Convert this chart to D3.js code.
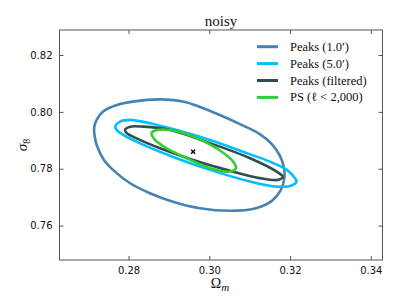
<!DOCTYPE html>
<html><head><meta charset="utf-8">
<script src="https://cdn.jsdelivr.net/npm/d3@7"></script>
<style>body{margin:0;background:#fff}svg{display:block}</style>
</head><body>
<script>
const xTicks = [0.28, 0.30, 0.32, 0.34];
const yTicks = [0.76, 0.78, 0.80, 0.82];
const xDomain = [0.2629, 0.3429];
const yDomain = [0.7479, 0.8288];
const title = "noisy";
const seriesNames = ["Peaks (1.0\u2032)", "Peaks (5.0\u2032)", "Peaks (filtered)", "PS (\u2113 < 2,000)"];
const seriesColors = ["#4682b4", "#00bfff", "#2f4f4f", "#32cd32"];
const peaks10 = [[0.2715,0.7947],[0.2721,0.7972],[0.2737,0.8001],[0.2771,0.8024],[0.2811,0.8036],[0.2878,0.8044],[0.2940,0.8035],[0.2977,0.8017],[0.3026,0.7989],[0.3076,0.7957],[0.3125,0.7922],[0.3155,0.7887],[0.3175,0.7845],[0.3185,0.7803],[0.3186,0.7768],[0.3177,0.7725],[0.3155,0.7687],[0.3113,0.7660],[0.3051,0.7652],[0.2977,0.7661],[0.2910,0.7684],[0.2853,0.7714],[0.2804,0.7749],[0.2767,0.7789],[0.2739,0.7831],[0.2722,0.7880],[0.2716,0.7915]];
const peaks50 = [[0.2767,0.7948],[0.2779,0.7966],[0.2804,0.7972],[0.2853,0.7960],[0.2919,0.7936],[0.3002,0.7901],[0.3083,0.7860],[0.3150,0.7825],[0.3192,0.7796],[0.3212,0.7767],[0.3216,0.7755],[0.3204,0.7741],[0.3167,0.7737],[0.3101,0.7755],[0.3002,0.7796],[0.2919,0.7837],[0.2837,0.7884],[0.2787,0.7919],[0.2771,0.7936]];
const peaksFiltered = [[0.2791,0.7936],[0.2804,0.7948],[0.2837,0.7948],[0.2903,0.7936],[0.3002,0.7890],[0.3101,0.7837],[0.3167,0.7790],[0.3182,0.7772],[0.3171,0.7761],[0.3125,0.7767],[0.3043,0.7796],[0.2960,0.7831],[0.2878,0.7872],[0.2820,0.7907],[0.2796,0.7925]];
const psContour = [[0.2857,0.7925],[0.2870,0.7936],[0.2903,0.7936],[0.2960,0.7913],[0.3018,0.7872],[0.3059,0.7825],[0.3066,0.7802],[0.3051,0.7790],[0.3002,0.7802],[0.2944,0.7837],[0.2895,0.7872],[0.2866,0.7901]];
const fiducial = [0.2960, 0.7860];

const W = 399, H = 299;
const m = {left: 59.5, right: 382.5, top: 30, bottom: 260};
const svg = d3.select("body").append("svg").attr("width", W).attr("height", H);
const x = d3.scaleLinear().domain(xDomain).range([m.left, m.right]);
const y = d3.scaleLinear().domain(yDomain).range([m.bottom, m.top]);

const contours = [peaks10, peaks50, peaksFiltered, psContour];
const line = d3.line().x(d => x(d[0])).y(d => y(d[1])).curve(d3.curveCatmullRomClosed.alpha(0.5));
const g = svg.append("g");
contours.forEach((c, i) => {
  g.append("path").attr("d", line(c)).attr("fill", "none")
   .attr("stroke", seriesColors[i]).attr("stroke-width", 2.6);
});
const fx = x(fiducial[0]), fy = y(fiducial[1]);
g.append("path").attr("d", `M${fx-2},${fy-2}L${fx+2},${fy+2}M${fx-2},${fy+2}L${fx+2},${fy-2}`)
 .attr("stroke", "#000").attr("stroke-width", 1.4);

svg.append("rect").attr("x", m.left).attr("y", m.top).attr("width", m.right - m.left)
  .attr("height", m.bottom - m.top).attr("fill", "none").attr("stroke", "#555").attr("stroke-width", 1);

const tickLen = 4;
const axB = svg.append("g").attr("transform", `translate(0,${m.bottom})`)
  .call(d3.axisBottom(x).tickValues(xTicks).tickSizeInner(-tickLen).tickSizeOuter(0).tickPadding(7).tickFormat(d3.format(".2f")));
const axT = svg.append("g").attr("transform", `translate(0,${m.top})`)
  .call(d3.axisTop(x).tickValues(xTicks).tickSizeInner(-tickLen).tickSizeOuter(0).tickFormat(""));
const axL = svg.append("g").attr("transform", `translate(${m.left},0)`)
  .call(d3.axisLeft(y).tickValues(yTicks).tickSizeInner(-tickLen).tickSizeOuter(0).tickPadding(7).tickFormat(d3.format(".2f")));
const axR = svg.append("g").attr("transform", `translate(${m.right},0)`)
  .call(d3.axisRight(y).tickValues(yTicks).tickSizeInner(-tickLen).tickSizeOuter(0).tickFormat(""));
[axB, axT, axL, axR].forEach(a => {
  a.select(".domain").remove();
  a.selectAll(".tick line").attr("stroke", "#555");
  a.selectAll("text").attr("font-family", "DejaVu Sans").attr("font-size", 10).attr("fill", "#111");
});

svg.append("text").attr("x", (m.left + m.right) / 2).attr("y", 26).attr("text-anchor", "middle")
  .attr("font-family", "Liberation Serif").attr("font-size", 15).attr("fill", "#111").text(title);

const xl = svg.append("text").attr("x", 220).attr("y", 288).attr("text-anchor", "middle")
  .attr("font-family", "Liberation Serif").attr("font-size", 14).attr("fill", "#111");
xl.append("tspan").text("\u03A9");
xl.append("tspan").attr("font-style", "italic").attr("font-size", 11).attr("dy", 3).text("m");
const yl = svg.append("text").attr("transform", "translate(27,145) rotate(-90)").attr("text-anchor", "middle")
  .attr("font-family", "Liberation Serif").attr("font-size", 15).attr("fill", "#111");
yl.append("tspan").attr("font-style", "italic").text("\u03C3");
yl.append("tspan").attr("font-size", 10).attr("dy", 3).text("8");

const leg = svg.append("g");
seriesNames.forEach((n, i) => {
  const ly = 46.7 + i * 16.9;
  leg.append("line").attr("x1", 257).attr("x2", 278).attr("y1", ly).attr("y2", ly)
    .attr("stroke", seriesColors[i]).attr("stroke-width", 3);
  leg.append("text").attr("x", 290).attr("y", ly + 4).attr("font-family", "Liberation Serif")
    .attr("font-size", 12.5).attr("fill", "#111").text(n);
});
</script>
</body></html>
